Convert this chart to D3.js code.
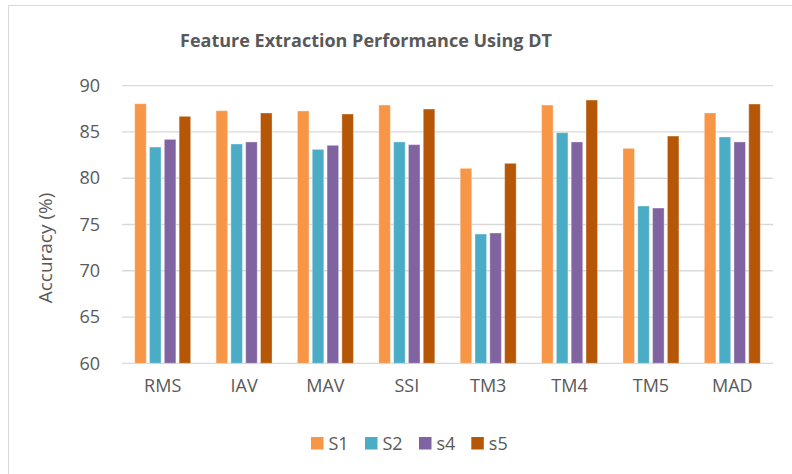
<!DOCTYPE html>
<html>
<head>
<meta charset="utf-8">
<script src="https://cdn.jsdelivr.net/npm/d3@7"></script>
<style>
  html, body { margin: 0; padding: 0; background: #fff; }
  svg { display: block; font-family: "Open Sans", "DejaVu Sans", sans-serif; }
</style>
</head>
<body>
<div id="chart"></div>
<script>
// data
var categories = ["RMS", "IAV", "MAV", "SSI", "TM3", "TM4", "TM5", "MAD"];
var seriesNames = ["S1", "S2", "s4", "s5"];
var s1 = [88.05, 87.3, 87.27, 87.91, 81.07, 87.91, 83.23, 87.05];
var s2 = [83.37, 83.7, 83.12, 83.92, 73.97, 84.92, 77.0, 84.46];
var s4 = [84.2, 83.92, 83.56, 83.63, 74.08, 83.92, 76.78, 83.92];
var s5 = [86.69, 87.05, 86.94, 87.48, 81.61, 88.45, 84.56, 88.02];
var yTicks = [60, 65, 70, 75, 80, 85, 90];
var colors = ["#F79646", "#4BACC6", "#8064A2", "#B65708"];

var allSeries = [s1, s2, s4, s5];

var width = 792, height = 474;
var plot = {left: 122, right: 773, top: 85.7, bottom: 363.3};

var svg = d3.select("#chart")
  .append("svg")
    .attr("width", width)
    .attr("height", height);

// outer frame of the chart (only top and left visible)
svg.append("path")
    .attr("d", "M8.5,474 L8.5,5.5 L792,5.5")
    .attr("fill", "none")
    .attr("stroke", "#D9D9D9")
    .attr("stroke-width", 1);

// title
svg.append("text")
    .attr("x", 366)
    .attr("y", 47)
    .attr("text-anchor", "middle")
    .style("font-size", "18px")
    .style("font-weight", "bold")
    .style("fill", "#595959")
    .text("Feature Extraction Performance Using DT");

// scales
var x0 = d3.scaleBand()
    .domain(categories)
    .range([plot.left, plot.right])
    .paddingInner(0.312)
    .paddingOuter(0.156);

var x1 = d3.scaleBand()
    .domain(seriesNames)
    .range([0, x0.bandwidth()])
    .paddingInner(0.22)
    .paddingOuter(0);

var y = d3.scaleLinear()
    .domain([60, 90])
    .range([plot.bottom, plot.top]);

// gridlines
svg.append("g")
  .selectAll("line")
  .data(yTicks)
  .enter()
  .append("line")
    .attr("x1", plot.left)
    .attr("x2", plot.right)
    .attr("y1", function(d) { return y(d); })
    .attr("y2", function(d) { return y(d); })
    .attr("stroke", "#D9D9D9")
    .attr("stroke-width", 1.3);

// y axis labels
var yAxis = svg.append("g")
    .attr("transform", "translate(100,0)")
    .call(d3.axisLeft(y).tickValues(yTicks).tickSize(0).tickPadding(0));
yAxis.select(".domain").remove();
yAxis.selectAll("text")
    .style("font-family", "'Open Sans', sans-serif")
    .style("font-size", "18px")
    .style("fill", "#595959");

// x axis labels
var xAxis = svg.append("g")
    .attr("transform", "translate(0," + plot.bottom + ")")
    .call(d3.axisBottom(x0).tickSize(0).tickPadding(16));
xAxis.select(".domain").remove();
xAxis.selectAll("text")
    .style("font-family", "'Open Sans', sans-serif")
    .style("font-size", "18px")
    .style("fill", "#595959");

// axis title
svg.append("text")
    .attr("transform", "translate(52,248) rotate(-90)")
    .attr("text-anchor", "middle")
    .style("font-size", "19px")
    .style("fill", "#595959")
    .text("Accuracy (%)");

// bars
var groups = svg.append("g")
  .selectAll("g")
  .data(categories)
  .enter()
  .append("g")
    .attr("transform", function(d) { return "translate(" + x0(d) + ",0)"; });

groups.selectAll("rect")
  .data(function(d, i) {
    return seriesNames.map(function(s, j) { return {name: s, value: allSeries[j][i], idx: j}; });
  })
  .enter()
  .append("rect")
    .attr("x", function(d) { return x1(d.name); })
    .attr("y", function(d) { return y(d.value); })
    .attr("width", x1.bandwidth())
    .attr("height", function(d) { return plot.bottom - y(d.value); })
    .style("fill", function(d) { return colors[d.idx]; })
    .style("stroke", "#fff")
    .style("stroke-opacity", 0.35)
    .style("stroke-width", 1);

// legend
var legendX = [311, 365, 419, 471.3];
var legend = svg.append("g")
  .selectAll("g")
  .data(seriesNames)
  .enter()
  .append("g")
    .attr("transform", function(d, i) { return "translate(" + legendX[i] + ",437)"; });

legend.append("rect")
    .attr("width", 12.5)
    .attr("height", 12.5)
    .style("fill", function(d, i) { return colors[i]; });

legend.append("text")
    .attr("x", 17.5)
    .attr("y", 12.5)
    .style("font-size", "18px")
    .style("fill", "#595959")
    .text(function(d) { return d; });
</script>
</body>
</html>
